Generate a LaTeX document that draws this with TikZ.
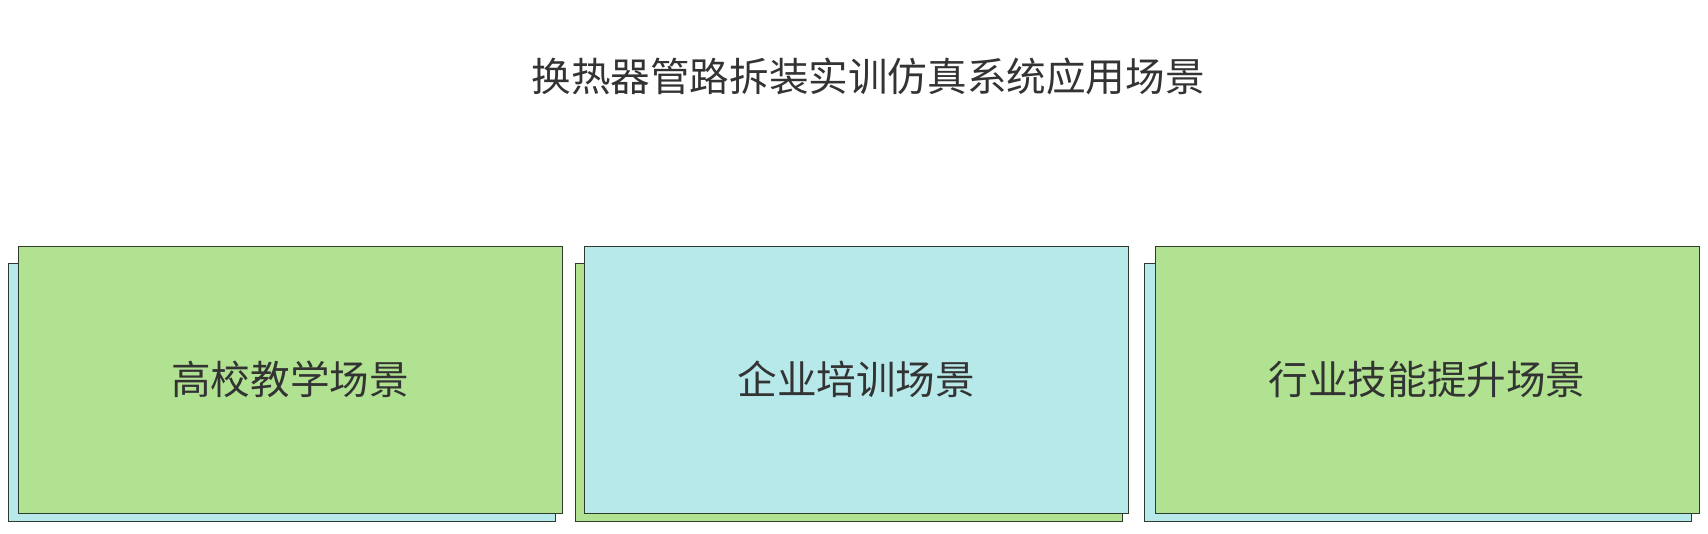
\documentclass[tikz,border=0pt]{standalone}
\usepackage{fontspec}
\newfontfamily\cjk{Noto Sans CJK SC}
\definecolor{boxgreen}{RGB}{176,226,145}
\definecolor{boxcyan}{RGB}{183,233,234}
\definecolor{edge}{RGB}{46,58,46}
\definecolor{txt}{RGB}{51,51,51}
\tikzset{
  card/.style={draw=edge, line width=1pt, inner sep=0pt, minimum width=544pt, minimum height=267pt,
    text=txt, font=\cjk\fontsize{39.6}{46}\selectfont},
  backcard/.style={draw=edge, line width=1pt, inner sep=0pt, minimum width=547pt, minimum height=258pt},
  titletext/.style={text=txt, font=\cjk\fontsize{39.6}{46}\selectfont, inner sep=0pt}
}
\begin{document}
\begin{tikzpicture}[x=1pt,y=-1pt]
\useasboundingbox[fill=white] (0,0) rectangle (1708,533);
\node[titletext] (title) at (868,76) {换热器管路拆装实训仿真系统应用场景};
% box 1
\node[backcard, fill=boxcyan] (b1back) at (281.5,392.8) {};
\node[card, fill=boxgreen] (b1) at (290,379.5) {高校教学场景};
% box 2
\node[backcard, fill=boxgreen] (b2back) at (848.5,392.8) {};
\node[card, fill=boxcyan] (b2) at (856.2,379.5) {企业培训场景};
% box 3
\node[backcard, fill=boxcyan] (b3back) at (1417.5,392.8) {};
\node[card, fill=boxgreen] (b3) at (1427,379.5) {行业技能提升场景};
\end{tikzpicture}
\end{document}
